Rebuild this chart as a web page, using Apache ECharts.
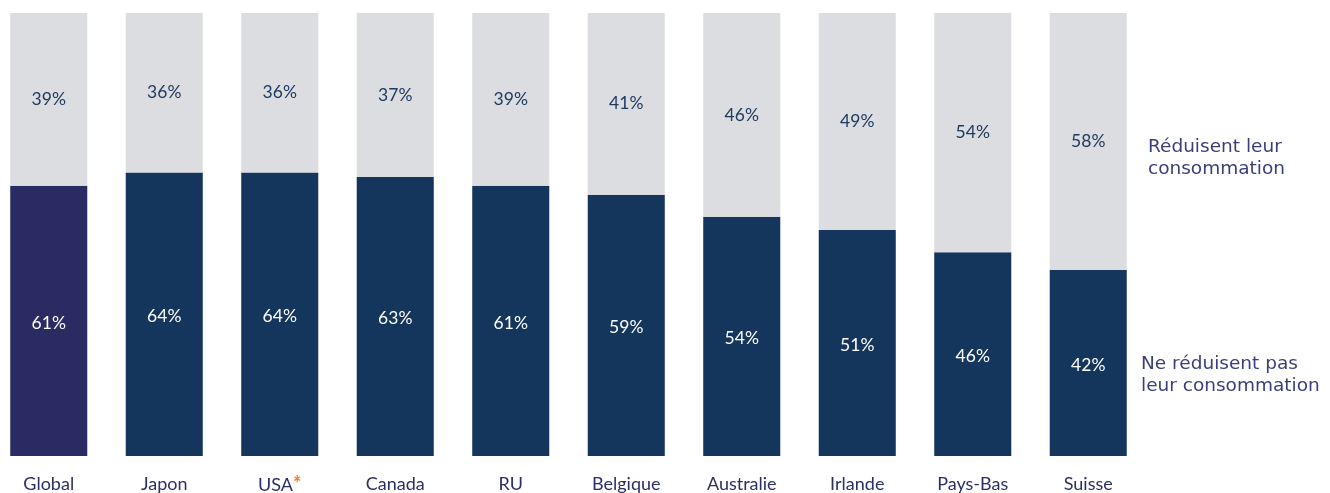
<!DOCTYPE html>
<html>
<head>
<meta charset="utf-8">
<script src="https://cdn.jsdelivr.net/npm/echarts@6/dist/echarts.min.js"></script>
<style>
  html, body { margin: 0; padding: 0; background: #fff; overflow: hidden; }
  /* shifted left so the first bar can sit close to the edge */
  #chart { position: relative; left: -10px; width: 1340px; height: 493px; }
</style>
</head>
<body>
<div id="chart"></div>
<script>
// Share of respondents by country: not reducing vs reducing consumption
const countries = ['Global', 'Japon', 'USA', 'Canada', 'RU', 'Belgique', 'Australie', 'Irlande', 'Pays-Bas', 'Suisse'];
const notReducing = [61, 64, 64, 63, 61, 59, 54, 51, 46, 42];
const reducing = [39, 36, 36, 37, 39, 41, 46, 49, 54, 58];

const NAVY = '#14355c';
const GLOBAL_NAVY = '#2a2b62';
const GREY = '#dcdde0';
const TEXT = '#2b2f66';

const chart = echarts.init(document.getElementById('chart'));

const darkData = notReducing.map((v, i) => (
  i === 0 ? { value: v, itemStyle: { color: GLOBAL_NAVY } } : v
));

chart.setOption({
  animation: false,
  grid: { left: 1, width: 1155, top: 13, bottom: 37, outerBoundsMode: 'none' },
  xAxis: {
    type: 'category',
    data: countries,
    axisLine: { show: false },
    axisTick: { show: false },
    axisLabel: {
      interval: 0,
      margin: 19,
      fontFamily: 'Lato',
      fontSize: 18,
      color: TEXT,
      formatter: (v) => (v === 'USA' ? 'USA{star|*}' : v),
      rich: { star: { color: '#f07c2a', fontSize: 20, fontWeight: 'bold', verticalAlign: 'top' } }
    }
  },
  yAxis: { type: 'value', min: 0, max: 100, show: false },
  series: [
    {
      name: 'Ne réduisent pas leur consommation',
      type: 'bar',
      stack: 'total',
      barCategoryGap: '33.3%',
      data: darkData,
      itemStyle: { color: NAVY },
      label: {
        show: true,
        position: 'inside',
        offset: [0, 2],
        formatter: '{c}%',
        color: '#ffffff',
        fontFamily: 'Lato',
        fontSize: 17.5
      }
    },
    {
      name: 'Réduisent leur consommation',
      type: 'bar',
      stack: 'total',
      data: reducing,
      itemStyle: { color: GREY },
      label: {
        show: true,
        position: 'inside',
        formatter: '{c}%',
        color: '#1f3a60',
        fontFamily: 'Lato',
        fontSize: 17.5
      }
    }
  ],
  graphic: [
    {
      type: 'text', left: 1158, top: 136,
      style: { text: 'Réduisent leur\nconsommation', fill: '#3a3f7c', font: '18.5px "DejaVu Sans"', lineHeight: 22 }
    },
    {
      type: 'text', left: 1151, top: 353,
      style: { text: 'Ne réduisent pas\nleur consommation', fill: '#3a3f7c', font: '18.5px "DejaVu Sans"', lineHeight: 22 }
    }
  ]
});
</script>
</body>
</html>
